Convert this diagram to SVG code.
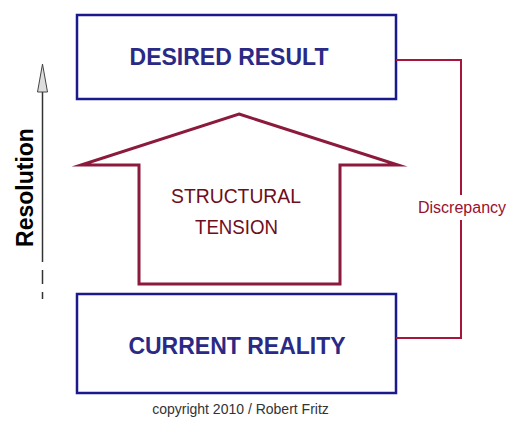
<svg xmlns="http://www.w3.org/2000/svg" width="519" height="430" viewBox="0 0 519 430">
<style>
.box{fill:#fff;stroke:#1a1a8c;stroke-width:2.5}
.boxtxt{font-family:"Liberation Sans",Arial,sans-serif;font-weight:bold;font-size:23px;fill:#2a2a86;text-anchor:middle}
.arrow{fill:#fff;stroke:#8c1a3c;stroke-width:3;stroke-linejoin:miter;stroke-miterlimit:20}
.tens{font-family:"Liberation Sans",Arial,sans-serif;font-size:21px;fill:#6e0d1c;text-anchor:middle}
.conn{fill:none;stroke:#a5163a;stroke-width:2}
.disc{font-family:"Liberation Sans",Arial,sans-serif;font-size:16px;fill:#9a1030}
</style>
<rect width="519" height="430" fill="#fff"/>
<g id="desired-result">
<rect class="box" x="77" y="15" width="319" height="84"/>
<text class="boxtxt" x="229" y="65">DESIRED RESULT</text>
</g>
<g id="current-reality">
<rect class="box" x="77" y="294" width="319" height="99"/>
<text class="boxtxt" x="237" y="354">CURRENT REALITY</text>
</g>
<g id="structural-tension">
<path class="arrow" d="M239,114 L398,165 L340,165 L340,284 L139,284 L139,165 L81,165 Z"/>
<text class="tens" x="236" y="203" textLength="130" lengthAdjust="spacingAndGlyphs">STRUCTURAL</text>
<text class="tens" x="236.5" y="234" textLength="83" lengthAdjust="spacingAndGlyphs">TENSION</text>
</g>
<g id="resolution">
<line x1="42.5" y1="88" x2="42.5" y2="262" stroke="#333" stroke-width="1.5"/>
<line x1="42.5" y1="270" x2="42.5" y2="284" stroke="#333" stroke-width="1.5"/>
<line x1="42.5" y1="292" x2="42.5" y2="299" stroke="#333" stroke-width="1.5"/>
<path d="M42.5,64 L47.5,92 L37.5,92 Z" fill="#ddd" stroke="#444" stroke-width="1"/>
<text x="0" y="0" transform="translate(33,187.5) rotate(-90)" font-family="'Liberation Sans',Arial,sans-serif" font-weight="bold" font-size="23" text-anchor="middle" fill="#000">Resolution</text>
</g>
<g id="connectors">
<path class="conn" d="M396,60 H461 V195"/>
<path class="conn" d="M461,220 V338 H396"/>
<text class="disc" x="418" y="213">Discrepancy</text>
</g>
<text x="240.5" y="414" font-family="'Liberation Sans',Arial,sans-serif" font-size="14" fill="#333" text-anchor="middle">copyright 2010 / Robert Fritz</text>
</svg>
